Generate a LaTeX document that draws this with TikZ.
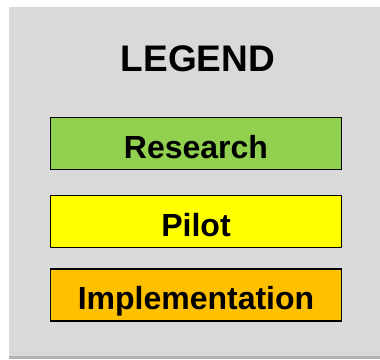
\documentclass[tikz,border=0pt]{standalone}
\usepackage{fontspec}
\setmainfont{Liberation Sans}
\usetikzlibrary{shadows}
\usetikzlibrary{positioning}

\definecolor{researchgreen}{HTML}{92D050}
\definecolor{pilotyellow}{HTML}{FFFF00}
\definecolor{implorange}{HTML}{FFC000}
\definecolor{panelgray}{HTML}{D9D9D9}

\tikzset{
    legendbox/.style={draw=black,line width=1.2pt,minimum width=291pt,
        minimum height=52pt,inner sep=0pt,text height=29pt,text depth=0pt,
        font=\bfseries\fontsize{32}{38}\selectfont},
}

\begin{document}
\begin{tikzpicture}[x=1pt,y=1pt]
        \useasboundingbox (0,0) rectangle (380,-359);
        % Legend panel
        \fill [panelgray,drop shadow={shadow xshift=0pt,shadow yshift=-3pt,
            fill=black!50,opacity=.6}] (9,-7) rectangle (392,-356);
        \node (title) at (198,-71) [anchor=base,
            font=\bfseries\fontsize{37}{44}\selectfont] {LEGEND};
        \node (research) at (196,-143.5) [legendbox,fill=researchgreen] {Research};
        \node (pilot) [legendbox,fill=pilotyellow,below=25pt of research] {Pilot};
        \node (impl) [legendbox,fill=implorange,below=20pt of pilot] {Implementation};
    \end{tikzpicture}
\end{document}
